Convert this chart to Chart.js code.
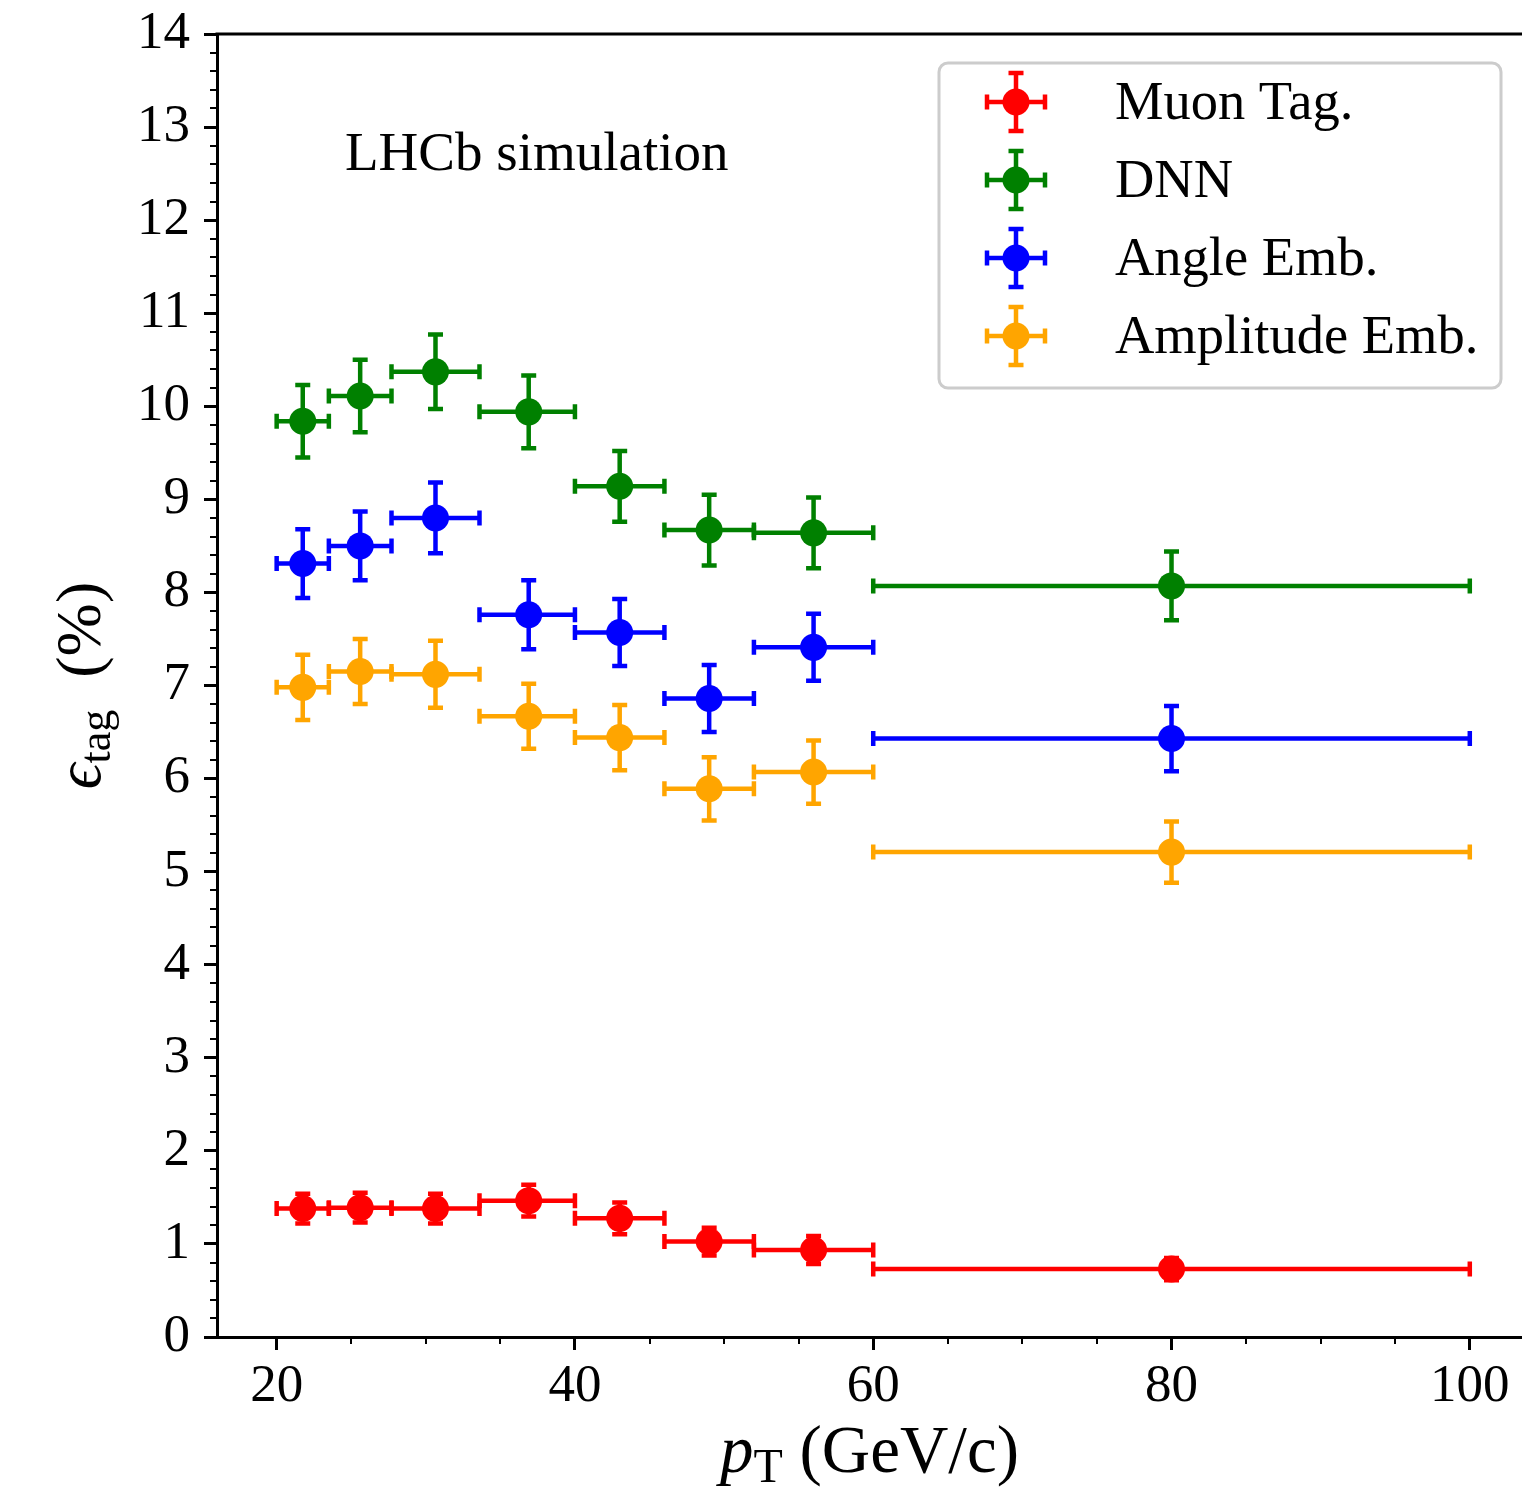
<!DOCTYPE html>
<html>
<head>
<meta charset="utf-8">
<script src="https://cdn.jsdelivr.net/npm/chart.js@4.4.0/dist/chart.umd.min.js"></script>
<style>
  html, body { margin: 0; padding: 0; background: #fff; overflow: hidden; }
  #wrap { width: 1522px; height: 1490px; position: relative; }
</style>
</head>
<body>
<div id="wrap"><canvas id="eff_chart"></canvas></div>
<script>
// pT bins (GeV/c) and the point position inside each bin
const binEdges = [20, 23.5, 27.7, 33.6, 40, 46, 52, 60, 100];
const ptCentres = [21.75, 25.6, 30.65, 36.9, 43.0, 49.0, 56.0, 80.0];

// tagging efficiency (%) and its error per bin
const muonEff = [1.38, 1.39, 1.38, 1.465, 1.275, 1.025, 0.935, 0.73];
const muonErr = [0.16, 0.16, 0.16, 0.17, 0.17, 0.15, 0.15, 0.12];
const dnnEff = [9.84, 10.11, 10.37, 9.94, 9.14, 8.67, 8.64, 8.07];
const dnnErr = [0.39, 0.39, 0.40, 0.39, 0.38, 0.38, 0.38, 0.37];
const angleEff = [8.31, 8.50, 8.80, 7.76, 7.57, 6.86, 7.41, 6.43];
const angleErr = [0.37, 0.37, 0.38, 0.37, 0.36, 0.36, 0.36, 0.35];
const amplEff = [6.98, 7.15, 7.12, 6.67, 6.44, 5.89, 6.07, 5.21];
const amplErr = [0.35, 0.35, 0.36, 0.35, 0.35, 0.34, 0.34, 0.33];

const seriesNames = ['Muon Tag.', 'DNN', 'Angle Emb.', 'Amplitude Emb.'];
const seriesColors = ['#ff0000', '#008000', '#0000ff', '#ffa500'];
const seriesEff = [muonEff, dnnEff, angleEff, amplEff];
const seriesErr = [muonErr, dnnErr, angleErr, amplErr];

const xTicks = [20, 40, 60, 80, 100];
const yTicks = [0, 1, 2, 3, 4, 5, 6, 7, 8, 9, 10, 11, 12, 13, 14];

const serif = '"Liberation Serif", "Times New Roman", serif';
Chart.defaults.font.family = serif;
Chart.defaults.color = '#000';

const CAP = 7.5;

const errorBars = {
    id: 'errorBars',
    beforeDatasetsDraw(chart) {
        const ctx = chart.ctx;
        const x = chart.scales.x, y = chart.scales.y;
        chart.data.datasets.forEach(ds => {
            ctx.save();
            ctx.strokeStyle = ds.borderColor;
            ctx.lineWidth = 4.5;
            ds.data.forEach((p, i) => {
                const xl = x.getPixelForValue(binEdges[i]);
                const xr = x.getPixelForValue(binEdges[i + 1]);
                const xc = x.getPixelForValue(p.x);
                const yc = y.getPixelForValue(p.y);
                const yt = y.getPixelForValue(p.y + ds.errors[i]);
                const yb = y.getPixelForValue(p.y - ds.errors[i]);
                ctx.beginPath();
                ctx.moveTo(xl, yc); ctx.lineTo(xr, yc);
                ctx.moveTo(xc, yt); ctx.lineTo(xc, yb);
                ctx.moveTo(xl, yc - CAP); ctx.lineTo(xl, yc + CAP);
                ctx.moveTo(xr, yc - CAP); ctx.lineTo(xr, yc + CAP);
                ctx.moveTo(xc - CAP, yt); ctx.lineTo(xc + CAP, yt);
                ctx.moveTo(xc - CAP, yb); ctx.lineTo(xc + CAP, yb);
                ctx.stroke();
            });
            ctx.restore();
        });
    }
};

function drawSymbol(ctx, cx, cy, color) {
    const h = 29;
    ctx.save();
    ctx.strokeStyle = color;
    ctx.fillStyle = color;
    ctx.lineWidth = 4.5;
    ctx.beginPath();
    ctx.moveTo(cx - h, cy); ctx.lineTo(cx + h, cy);
    ctx.moveTo(cx, cy - h); ctx.lineTo(cx, cy + h);
    ctx.moveTo(cx - h, cy - CAP); ctx.lineTo(cx - h, cy + CAP);
    ctx.moveTo(cx + h, cy - CAP); ctx.lineTo(cx + h, cy + CAP);
    ctx.moveTo(cx - CAP, cy - h); ctx.lineTo(cx + CAP, cy - h);
    ctx.moveTo(cx - CAP, cy + h); ctx.lineTo(cx + CAP, cy + h);
    ctx.stroke();
    ctx.beginPath();
    ctx.arc(cx, cy, 13.5, 0, Math.PI * 2);
    ctx.fill();
    ctx.restore();
}

const decorations = {
    id: 'decorations',
    afterDraw(chart) {
        const ctx = chart.ctx;
        const a = chart.chartArea;
        const x = chart.scales.x, y = chart.scales.y;
        ctx.save();

        // top spine
        ctx.strokeStyle = '#000';
        ctx.lineWidth = 3;
        ctx.beginPath();
        ctx.moveTo(a.left - 1.5, a.top);
        ctx.lineTo(a.right, a.top);
        ctx.stroke();

        // minor ticks
        ctx.lineWidth = 2;
        ctx.beginPath();
        for (let v = 0.2; v < 14; v += 0.2) {
            if (Math.abs(v - Math.round(v)) < 1e-6) continue;
            const py = Math.round(y.getPixelForValue(v));
            ctx.moveTo(a.left, py); ctx.lineTo(a.left - 7, py);
        }
        for (let v = 20; v <= 103; v += 5) {
            if (v % 20 === 0) continue;
            const px = Math.round(x.getPixelForValue(v));
            ctx.moveTo(px, a.bottom); ctx.lineTo(px, a.bottom + 7);
        }
        ctx.stroke();

        // annotation
        ctx.fillStyle = '#000';
        ctx.font = '55px ' + serif;
        ctx.textBaseline = 'alphabetic';
        ctx.textAlign = 'left';
        ctx.fillText('LHCb simulation', 345, 170);

        // legend
        const lx = 939, ly = 63, lw = 562, lh = 325, r = 9;
        ctx.beginPath();
        ctx.moveTo(lx + r, ly);
        ctx.arcTo(lx + lw, ly, lx + lw, ly + lh, r);
        ctx.arcTo(lx + lw, ly + lh, lx, ly + lh, r);
        ctx.arcTo(lx, ly + lh, lx, ly, r);
        ctx.arcTo(lx, ly, lx + lw, ly, r);
        ctx.closePath();
        ctx.fillStyle = 'rgba(255,255,255,0.8)';
        ctx.fill();
        ctx.strokeStyle = '#cccccc';
        ctx.lineWidth = 3;
        ctx.stroke();
        seriesNames.forEach((name, i) => {
            const cy = 102 + i * 78;
            drawSymbol(ctx, 1016, cy, seriesColors[i]);
            ctx.fillStyle = '#000';
            ctx.font = '54.5px ' + serif;
            ctx.textBaseline = 'middle';
            ctx.fillText(name, 1115, cy + 3);
        });

        // x axis title: p_T (GeV/c)
        const big = 67, sub = 48;
        ctx.textBaseline = 'alphabetic';
        ctx.font = 'italic ' + big + 'px ' + serif;
        const wp = ctx.measureText('p').width;
        ctx.font = sub + 'px ' + serif;
        const wt = ctx.measureText('T').width;
        ctx.font = big + 'px ' + serif;
        const wr = ctx.measureText(' (GeV/c)').width;
        let sx = (a.left + a.right) / 2 - (wp + wt + wr) / 2;
        const by = 1472;
        ctx.font = 'italic ' + big + 'px ' + serif;
        ctx.fillText('p', sx, by);
        sx += wp;
        ctx.font = sub + 'px ' + serif;
        ctx.fillText('T', sx, by + 10);
        sx += wt;
        ctx.font = big + 'px ' + serif;
        ctx.fillText(' (GeV/c)', sx, by);

        // y axis title: eps_tag (%)
        const yb = 64, ys = 44;
        ctx.save();
        ctx.translate(100, (a.top + a.bottom) / 2);
        ctx.rotate(-Math.PI / 2);
        ctx.font = 'italic ' + yb + 'px ' + serif;
        const we = ctx.measureText('\u03f5').width;
        ctx.font = ys + 'px ' + serif;
        const wg = ctx.measureText('tag').width;
        ctx.font = yb + 'px ' + serif;
        const wpc = ctx.measureText('  (%)').width;
        let tx = -(we + wg + wpc) / 2;
        ctx.font = 'italic ' + yb + 'px ' + serif;
        ctx.fillText('\u03f5', tx, 0);
        tx += we;
        ctx.font = ys + 'px ' + serif;
        ctx.fillText('tag', tx, 10);
        tx += wg;
        ctx.font = yb + 'px ' + serif;
        ctx.fillText('  (%)', tx, 0);
        ctx.restore();

        ctx.restore();
    }
};

const axisGrid = {
    drawOnChartArea: false,
    drawTicks: true,
    tickLength: 13,
    tickWidth: 3,
    lineWidth: 3,
    tickColor: '#000',
    color: '#000'
};

function noScalePadding(s) {
    s.paddingTop = 0;
    s.paddingBottom = 0;
    s.paddingLeft = 0;
    s.paddingRight = 0;
}

new Chart('eff_chart', {
    type: 'scatter',
    data: {
        datasets: seriesNames.map((name, k) => ({
            label: name,
            data: ptCentres.map((v, i) => ({ x: v, y: seriesEff[k][i] })),
            errors: seriesErr[k],
            backgroundColor: seriesColors[k],
            borderColor: seriesColors[k],
            borderWidth: 0,
            pointRadius: 13.5,
            pointHoverRadius: 13.5
        }))
    },
    options: {
        animation: false,
        responsive: true,
        maintainAspectRatio: false,
        devicePixelRatio: 1,
        layout: { autoPadding: false, padding: { top: 34, right: 0, left: 0, bottom: 0 } },
        plugins: {
            legend: { display: false },
            tooltip: { enabled: false }
        },
        scales: {
            x: {
                type: 'linear',
                min: 16,
                max: 103.5,
                afterBuildTicks: s => { s.ticks = xTicks.map(v => ({ value: v })); },
                afterFit: s => { s.height = 153; noScalePadding(s); },
                grid: axisGrid,
                border: { display: true, color: '#000', width: 3 },
                ticks: { font: { size: 53 }, padding: 5, maxRotation: 0, color: '#000' }
            },
            y: {
                type: 'linear',
                min: 0,
                max: 14,
                afterBuildTicks: s => { s.ticks = yTicks.map(v => ({ value: v })); },
                afterFit: s => { s.width = 217; noScalePadding(s); },
                grid: axisGrid,
                border: { display: true, color: '#000', width: 3 },
                ticks: { font: { size: 53 }, padding: 14, color: '#000' }
            }
        }
    },
    plugins: [errorBars, decorations]
});
</script>
</body>
</html>
